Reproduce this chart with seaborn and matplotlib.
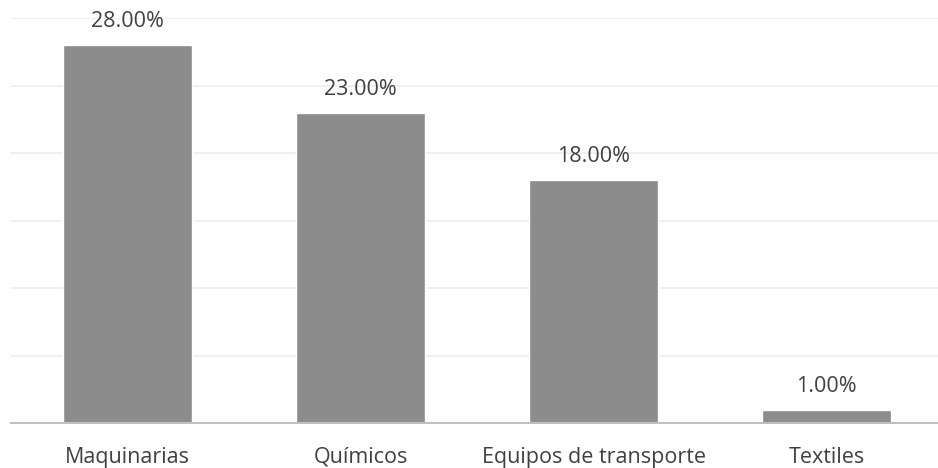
import matplotlib
matplotlib.use("Agg")
import matplotlib.pyplot as plt
import seaborn as sns
import pandas as pd

categories = ["Maquinarias", "Químicos", "Equipos de transporte", "Textiles"]
values = [28.0, 23.0, 18.0, 1.0]

sns.set_theme(style="white")
plt.rcParams['font.family'] = ['Open Sans', 'DejaVu Sans']

df = pd.DataFrame({"cat": categories, "val": values})

fig = plt.figure(figsize=(9.38, 4.68), dpi=100)
ax = fig.add_axes([11/938, 45/468, 932/938, 405/468])
sns.barplot(data=df, x="cat", y="val", color="#8c8c8c", saturation=1, width=0.555, ax=ax, zorder=3)
ax.set_ylim(0, 30)
ax.set_xlim(-0.5, 3.5)
for y in range(5, 31, 5):
    ax.axhline(y, color="#ececec", lw=1.2, zorder=1)
for i, v in enumerate(values):
    ax.text(i, v + 0.95, f"{v:.2f}%", ha="center", va="bottom", fontsize=15.5, color="#404040")
ax.set_xlabel("")
ax.set_ylabel("")
ax.set_yticks([])
ax.tick_params(axis="x", length=0, pad=17, labelsize=15.5, labelcolor="#404040")
for s in ["top", "right", "left"]:
    ax.spines[s].set_visible(False)
ax.spines["bottom"].set_color("#bfbfbf")
ax.spines["bottom"].set_linewidth(1.5)
ax.spines["bottom"].set_zorder(4)
fig.savefig("out.png", dpi=100)
